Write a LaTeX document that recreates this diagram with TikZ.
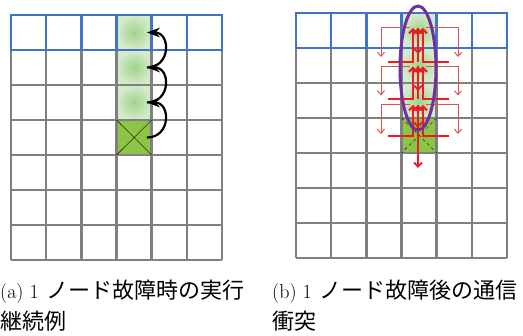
\documentclass[tikz,border=0pt]{standalone}
\usepackage{fontspec}
\newfontfamily\cjk{Noto Sans CJK JP}
\usetikzlibrary{arrows.meta, calc, positioning}

\definecolor{gridgray}{RGB}{128,128,128}
\definecolor{topblue}{RGB}{68,114,196}
\definecolor{failgreen}{RGB}{141,196,70}
\definecolor{leafgreen}{RGB}{160,211,138}
\definecolor{palegreen}{RGB}{214,235,204}
\definecolor{msgred}{RGB}{237,28,36}
\definecolor{fwdred}{RGB}{214,84,84}
\definecolor{ringpurple}{RGB}{112,48,160}
\newcommand\jtext[1]{{\cjk\fontsize{22}{30}\selectfont #1}}

\begin{document}
\begin{tikzpicture}[x=1pt, y=-1pt, >=Stealth,
    gridline/.style={draw=gridgray, line width=2.4pt},
    topline/.style={draw=topblue, line width=2.4pt},
    aliveshade/.style={inner color=leafgreen, outer color=palegreen},
    relay/.style={->, line width=2.2pt, black},
    msg/.style={line width=2pt, msgred, -{Straight Barb[length=4pt, width=8pt]}},
    fwd/.style={line width=1pt, fwdred, -{Straight Barb[length=4pt, width=7pt]}},
    caption/.style={anchor=base west, inner sep=0pt, font=\fontsize{20}{30}\selectfont}]
    \useasboundingbox (0,0) rectangle (523,336);

    % (a) execution goes on
    \begin{scope}[shift={(11,15)}]
        \foreach \r in {0,1,2}
            \shade[aliveshade] (105.5,\r*35) rectangle (140.7,\r*35+35);
        \fill[failgreen] (105.5,105) rectangle (140.7,140);
        \foreach \i in {0,...,6} \draw[gridline] (\i*35.17,0) -- (\i*35.17,245);
        \foreach \j in {0,...,7} \draw[gridline] (0,\j*35) -- (211,\j*35);
        \draw[topline] (0,0) rectangle (211,35);
        \foreach \i in {1,...,5} \draw[topline] (\i*35.17,0) -- (\i*35.17,35);
        \draw[thin] (105.5,105) -- (140.7,140) (140.7,105) -- (105.5,140);
        \foreach \r in {0,...,3} \coordinate (a\r) at (136,\r*35+17.5);
        \draw[relay] (a3) .. controls +(24,0) and +(24,0) .. (a2);
        \draw[relay] (a2) .. controls +(24,0) and +(24,0) .. (a1);
        \draw[relay] (a1) .. controls +(24,0) and +(24,0) .. (a0);
    \end{scope}

    % (b) messages collide
    \begin{scope}[shift={(296,13)}]
        \foreach \r in {0,1,2}
            \shade[aliveshade] (105.5,\r*35) rectangle (140.7,\r*35+35);
        \fill[failgreen] (105.5,105) rectangle (140.7,140);
        \foreach \i in {0,...,6} \draw[gridline] (\i*35.17,0) -- (\i*35.17,245);
        \foreach \j in {0,...,7} \draw[gridline] (0,\j*35) -- (211,\j*35);
        \draw[topline] (0,0) rectangle (211,35);
        \foreach \i in {1,...,5} \draw[topline] (\i*35.17,0) -- (\i*35.17,35);
        \draw[thin, dashed] (105.5,105) -- (140.7,140) (140.7,105) -- (105.5,140);
        \foreach \yt/\yb in {15/49, 53.5/86, 92/123} {
            \draw[fwd] (114,\yt) -- (85,\yt) -- (85,\yt+29);
            \draw[fwd] (130,\yt) -- (162,\yt) -- (162,\yt+29);
            \draw[msg] (92,\yb) -- (117,\yb) -- (117,\yt);
            \draw[msg] (153,\yb) -- (127,\yb) -- (127,\yt);
            \draw[msg] (122,\yb) -- (122,\yt);
            \draw[msg] (122,\yt) -- (122,\yb-8);
        }
        \draw[msg] (122,123) -- (122,155);
        \draw[ringpurple, line width=3pt] (122,55) ellipse [x radius=18, y radius=62];
    \end{scope}

    \node[caption] (capa) at (0,299) {(a)\hspace{0.3em}1\hspace{0.4em}\jtext{ノード故障時の実行}};
    \node[caption] (capa2) at (0,330) {\jtext{継続例}};
    \node[caption] (capb) at (272,299) {(b)\hspace{0.3em}1\hspace{0.4em}\jtext{ノード故障後の通信}};
    \node[caption] (capb2) at (272,330) {\jtext{衝突}};
\end{tikzpicture}
\end{document}
